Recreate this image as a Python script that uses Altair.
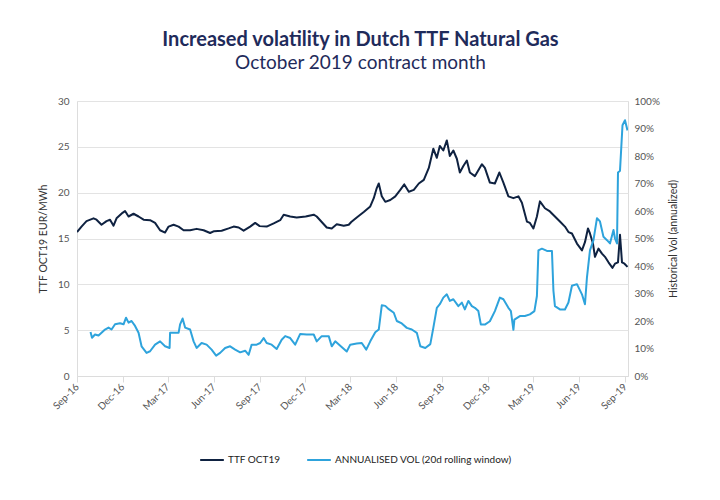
import altair as alt
import pandas as pd

ttf_dates = [
    "2016-09-01", "2016-09-10", "2016-09-20", "2016-10-04", "2016-10-10", "2016-10-20", "2016-10-30",
    "2016-11-06", "2016-11-13", "2016-11-19", "2016-12-01", "2016-12-06", "2016-12-13", "2016-12-23",
    "2017-01-02", "2017-01-12", "2017-01-25", "2017-02-04", "2017-02-14", "2017-02-24", "2017-03-03",
    "2017-03-13", "2017-03-23", "2017-04-02", "2017-04-15", "2017-04-28", "2017-05-12", "2017-05-25",
    "2017-06-02", "2017-06-17", "2017-07-01", "2017-07-11", "2017-07-21", "2017-07-31", "2017-08-13",
    "2017-08-23", "2017-09-01", "2017-09-15", "2017-09-29", "2017-10-12", "2017-10-19", "2017-11-01",
    "2017-11-14", "2017-12-02", "2017-12-18", "2017-12-24", "2018-01-03", "2018-01-13", "2018-01-23",
    "2018-02-02", "2018-02-16", "2018-02-26", "2018-03-03", "2018-03-14", "2018-03-28", "2018-04-10",
    "2018-04-17", "2018-04-23", "2018-04-27", "2018-05-03", "2018-05-10", "2018-05-20", "2018-05-30",
    "2018-06-09", "2018-06-17", "2018-06-26", "2018-07-06", "2018-07-16", "2018-07-26", "2018-08-05",
    "2018-08-14", "2018-08-21", "2018-08-27", "2018-09-03", "2018-09-10", "2018-09-16", "2018-09-23",
    "2018-09-30", "2018-10-06", "2018-10-13", "2018-10-20", "2018-10-26", "2018-11-05", "2018-11-19",
    "2018-11-25", "2018-12-05", "2018-12-15", "2018-12-24", "2019-01-01", "2019-01-11", "2019-01-21",
    "2019-01-31", "2019-02-07", "2019-02-17", "2019-02-23", "2019-03-02", "2019-03-09", "2019-03-15",
    "2019-03-25", "2019-04-04", "2019-04-14", "2019-04-24", "2019-05-04", "2019-05-11", "2019-05-18",
    "2019-05-28", "2019-06-07", "2019-06-13", "2019-06-19", "2019-06-23", "2019-06-29", "2019-07-03",
    "2019-07-10", "2019-07-17", "2019-07-23", "2019-07-30", "2019-08-07", "2019-08-12", "2019-08-18",
    "2019-08-22", "2019-08-26", "2019-08-31", "2019-09-06",
]
ttf_values = [
    15.7, 16.3, 16.9, 17.2, 17.05, 16.5, 16.9,
    17.05, 16.4, 17.2, 17.8, 18.0, 17.4, 17.7,
    17.4, 17.05, 17.0, 16.7, 15.9, 15.65, 16.3,
    16.5, 16.3, 15.9, 15.9, 16.05, 15.9, 15.6,
    15.8, 15.85, 16.1, 16.3, 16.2, 15.85, 16.3,
    16.7, 16.35, 16.3, 16.65, 17.0, 17.6, 17.4,
    17.3, 17.4, 17.6, 17.4, 16.8, 16.2, 16.1,
    16.55, 16.4, 16.5, 16.8, 17.3, 17.9, 18.5,
    19.4, 20.5, 21.0, 19.6, 19.0, 19.2, 19.6,
    20.3, 20.9, 20.1, 20.3, 21.0, 21.4, 22.7,
    24.8, 23.8, 25.1, 24.6, 25.7, 24.0, 24.6,
    23.7, 22.2, 22.9, 23.5, 22.2, 21.8, 23.1,
    22.7, 21.1, 21.0, 22.2, 21.1, 19.6, 19.4,
    19.6, 18.9, 16.85, 16.7, 16.1, 17.4, 19.05,
    18.3, 17.95, 17.4, 16.85, 16.3, 15.7, 15.55,
    14.45, 13.7, 14.6, 16.1, 15.55, 14.45, 13.0,
    13.9, 13.35, 13.0, 12.4, 11.8, 12.25, 12.4,
    15.4, 12.4, 12.25, 11.9,
]

vol_dates = [
    "2016-09-28", "2016-10-01", "2016-10-07", "2016-10-14", "2016-10-20", "2016-10-27", "2016-11-03",
    "2016-11-09", "2016-11-16", "2016-11-26", "2016-12-03", "2016-12-08", "2016-12-13", "2016-12-19",
    "2016-12-26", "2017-01-02", "2017-01-08", "2017-01-18", "2017-01-25", "2017-02-04", "2017-02-14",
    "2017-02-24", "2017-03-05", "2017-03-06", "2017-03-23", "2017-03-26", "2017-03-31", "2017-04-05",
    "2017-04-15", "2017-04-22", "2017-04-28", "2017-05-08", "2017-05-18", "2017-05-28", "2017-06-06",
    "2017-06-14", "2017-06-24", "2017-07-04", "2017-07-14", "2017-07-24", "2017-08-03", "2017-08-10",
    "2017-08-16", "2017-08-26", "2017-09-02", "2017-09-09", "2017-09-15", "2017-09-25", "2017-10-05",
    "2017-10-15", "2017-10-22", "2017-11-01", "2017-11-11", "2017-11-21", "2017-12-04", "2017-12-18",
    "2017-12-24", "2018-01-03", "2018-01-17", "2018-01-23", "2018-01-30", "2018-02-09", "2018-02-22",
    "2018-03-01", "2018-03-14", "2018-03-24", "2018-04-02", "2018-04-10", "2018-04-20", "2018-04-27",
    "2018-05-03", "2018-05-10", "2018-05-17", "2018-05-27", "2018-06-02", "2018-06-12", "2018-06-22",
    "2018-07-02", "2018-07-12", "2018-07-19", "2018-07-29", "2018-08-08", "2018-08-14", "2018-08-21",
    "2018-08-27", "2018-09-03", "2018-09-10", "2018-09-16", "2018-09-23", "2018-10-03", "2018-10-10",
    "2018-10-16", "2018-10-23", "2018-10-30", "2018-11-05", "2018-11-12", "2018-11-17", "2018-11-25",
    "2018-12-05", "2018-12-15", "2018-12-25", "2019-01-01", "2019-01-11", "2019-01-16", "2019-01-21",
    "2019-01-23", "2019-02-03", "2019-02-13", "2019-02-23", "2019-03-04", "2019-03-09", "2019-03-12",
    "2019-03-19", "2019-03-29", "2019-04-08", "2019-04-11", "2019-04-14", "2019-04-24", "2019-05-04",
    "2019-05-11", "2019-05-18", "2019-05-28", "2019-06-07", "2019-06-13", "2019-06-17", "2019-06-23",
    "2019-06-30", "2019-07-07", "2019-07-13", "2019-07-20", "2019-07-27", "2019-08-02", "2019-08-09",
    "2019-08-12", "2019-08-16", "2019-08-18", "2019-08-22", "2019-08-27", "2019-09-01", "2019-09-06",
]
vol_values = [
    16.0, 13.9, 15.1, 14.7, 15.7, 16.9, 17.6,
    16.9, 18.8, 19.2, 18.8, 21.2, 19.4, 20.0,
    18.2, 15.7, 10.8, 8.4, 9.0, 11.4, 12.6,
    10.8, 10.2, 15.7, 15.7, 18.8, 20.9, 17.6,
    16.9, 12.6, 10.2, 12.0, 11.4, 9.6, 7.4,
    8.4, 10.2, 10.8, 9.6, 8.6, 9.2, 7.7,
    11.4, 11.4, 12.0, 13.8, 12.0, 11.4, 9.8,
    13.2, 14.5, 13.8, 11.4, 15.3, 15.1, 15.1,
    12.6, 14.5, 14.5, 10.8, 12.6, 11.0, 8.9,
    11.4, 11.8, 12.0, 9.6, 12.6, 15.9, 16.9,
    25.7, 25.5, 24.3, 23.0, 20.0, 19.1, 17.5,
    16.9, 15.7, 10.8, 10.2, 11.6, 17.5, 24.8,
    26.1, 28.5, 29.7, 27.3, 27.9, 25.4, 26.7,
    24.2, 27.3, 25.4, 24.8, 23.6, 18.7, 18.7,
    19.9, 23.6, 28.5, 27.9, 24.8, 23.6, 16.8,
    20.5, 21.8, 21.8, 22.4, 23.6, 29.1, 45.7,
    46.3, 45.5, 45.5, 31.0, 25.4, 24.2, 24.2,
    26.7, 32.8, 33.4, 29.7, 26.1, 35.9, 45.7,
    49.4, 57.4, 56.2, 50.6, 49.4, 48.2, 53.1,
    50.0, 48.2, 74.0, 74.6, 91.2, 93.0, 89.3,
]

series_names = ["TTF OCT19", "ANNUALISED VOL (20d rolling window)"]
series_colors = ["#0f2241", "#2ea3dc"]
x_tick_months = [(2016, 9), (2016, 12), (2017, 3), (2017, 6), (2017, 9), (2017, 12),
                 (2018, 3), (2018, 6), (2018, 9), (2018, 12), (2019, 3), (2019, 6), (2019, 9)]
left_ticks = [0, 5, 10, 15, 20, 25, 30]
right_ticks = [0, 10, 20, 30, 40, 50, 60, 70, 80, 90, 100]

FONT = "Lato"
NAVY = "#1f2b5b"

ttf_df = pd.DataFrame({"date": ttf_dates, "value": ttf_values, "series": series_names[0]})
vol_df = pd.DataFrame({"date": vol_dates, "vol": vol_values, "series": series_names[1]})

x_enc = alt.X(
    "date:T",
    title=None,
    scale=alt.Scale(
        type="utc",
        domain=[alt.DateTime(year=2016, month=9, date=1, utc=True),
                alt.DateTime(year=2019, month=9, date=7, utc=True)],
    ),
    axis=alt.Axis(
        values=[alt.DateTime(year=y, month=m, date=1, utc=True) for y, m in x_tick_months],
        format="%b-%y",
        labelAngle=315,
        labelAlign="right",
        labelBaseline="middle",
        labelPadding=3,
        grid=False,
        domainColor="#dcdcdc",
        tickColor="#dcdcdc",
        tickSize=6,
        labelFont=FONT,
        labelFontSize=10,
        labelColor="#555555",
    ),
)

color_enc = alt.Color(
    "series:N",
    scale=alt.Scale(domain=series_names, range=series_colors),
    legend=alt.Legend(
        orient="none",
        legendX=122,
        legendY=346,
        direction="horizontal",
        title=None,
        symbolType="stroke",
        symbolSize=560,
        symbolStrokeWidth=2,
        labelFont=FONT,
        labelFontSize=10,
        labelColor="#222222",
        labelLimit=0,
        labelOffset=3,
        columnPadding=22,
        padding=0,
    ),
)

ttf_line = alt.Chart(ttf_df).mark_line(strokeWidth=2, strokeJoin="round", clip=True).encode(
    x=x_enc,
    y=alt.Y(
        "value:Q",
        scale=alt.Scale(domain=[0, 30]),
        axis=alt.Axis(
            orient="left",
            values=left_ticks,
            title="TTF OCT19 EUR/MWh",
            grid=True,
            gridColor="#e3e3e3",
            domain=False,
            ticks=False,
            labelPadding=8,
            titlePadding=9,
            labelFont=FONT,
            labelFontSize=10,
            labelColor="#555555",
            titleFont=FONT,
            titleFontSize=10.5,
            titleFontWeight="normal",
            titleColor="#333333",
        ),
    ),
    color=color_enc,
)

vol_line = alt.Chart(vol_df).mark_line(strokeWidth=2, strokeJoin="round", clip=True).encode(
    x=x_enc,
    y=alt.Y(
        "vol:Q",
        scale=alt.Scale(domain=[0, 100]),
        axis=alt.Axis(
            orient="right",
            values=right_ticks,
            labelExpr="datum.value + '%'",
            title="Historical Vol (annualized)",
            titleAngle=270,
            grid=False,
            domain=False,
            ticks=False,
            labelPadding=6,
            titlePadding=19,
            labelFont=FONT,
            labelFontSize=10,
            labelColor="#555555",
            titleFont=FONT,
            titleFontSize=10.5,
            titleFontWeight="normal",
            titleColor="#333333",
        ),
    ),
    color=color_enc,
)

chart = (
    alt.layer(ttf_line, vol_line)
    .resolve_scale(y="independent")
    .properties(
        width=551,
        height=275,
        autosize=alt.AutoSizeParams(type="none"),
        padding={"left": 77, "top": 101, "right": 92, "bottom": 124},
        title=alt.TitleParams(
            text="Increased volatility in Dutch TTF Natural Gas",
            subtitle="October 2019 contract month",
            font=FONT,
            fontSize=20,
            fontWeight="bold",
            color=NAVY,
            subtitleFont=FONT,
            subtitleFontSize=19,
            subtitleColor=NAVY,
            subtitlePadding=4,
            anchor="middle",
            frame="group",
            dx=8,
            offset=23,
        ),
    )
    .configure_view(stroke=None)
    .configure(background="white")
)

chart.save("out.html", embed_options={"renderer": "svg", "actions": False})
